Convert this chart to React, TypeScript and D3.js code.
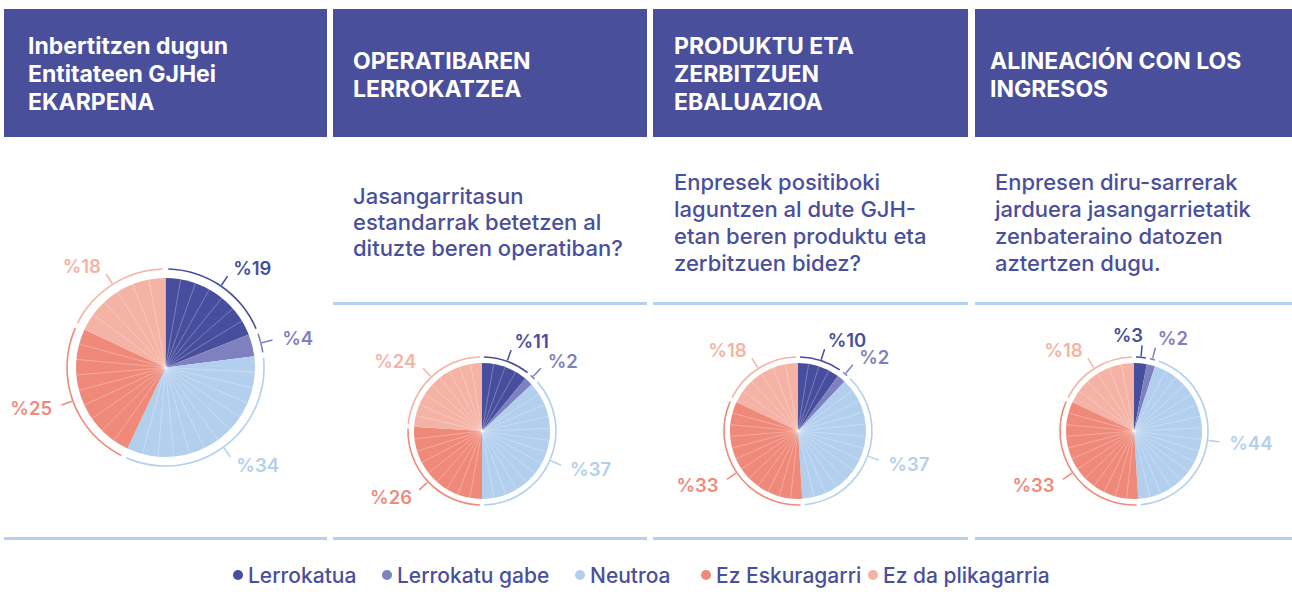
import React from "react";
import * as d3 from "d3";

const categories = ["Lerrokatua", "Lerrokatu gabe", "Neutroa", "Ez Eskuragarri", "Ez da plikagarria"];
const categoryColors = ["#474e9d", "#7f80c0", "#b3cfee", "#ef8a7b", "#f5b3a5"];

const titles = [
  ["Inbertitzen dugun", "Entitateen GJHei", "EKARPENA"],
  ["OPERATIBAREN", "LERROKATZEA"],
  ["PRODUKTU ETA", "ZERBITZUEN", "EBALUAZIOA"],
  ["ALINEACIÓN CON LOS", "INGRESOS"],
];

const questions = [
  [] as string[],
  ["Jasangarritasun", "estandarrak betetzen al", "dituzte beren operatiban?"],
  ["Enpresek positiboki", "laguntzen al dute GJH-", "etan beren produktu eta", "zerbitzuen bidez?"],
  ["Enpresen diru-sarrerak", "jarduera jasangarrietatik", "zenbateraino datozen", "aztertzen dugu."],
];

const valuesEkarpena = [19, 4, 34, 25, 18];
const valuesOperatiba = [11, 2, 37, 26, 24];
const valuesProduktu = [10, 2, 37, 33, 18];
const valuesIngresos = [3, 2, 44, 33, 18];
const panelValues = [valuesEkarpena, valuesOperatiba, valuesProduktu, valuesIngresos];

// layout
const W = 1292;
const H = 603;
const HEADER = "#4a4f9c";
const SEP = "#b8d0ef";
const panels = [
  { x0: 4, x1: 327, cx: 165.5, cy: 367.5, r: 89.5, ring: 98.5, tx: 28, titleY: 53.5, qx: 0, qY: 0, qStep: 26 },
  { x0: 333, x1: 647, cx: 482, cy: 431, r: 68, ring: 74, tx: 353, titleY: 68.5, qx: 353, qY: 204, qStep: 26 },
  { x0: 653, x1: 968, cx: 798, cy: 431, r: 68, ring: 74, tx: 674, titleY: 53.5, qx: 674, qY: 190, qStep: 27 },
  { x0: 975, x1: 1292, cx: 1134, cy: 431, r: 68, ring: 74, tx: 990, titleY: 68.5, qx: 995, qY: 190, qStep: 27 },
];
const legendX = [238, 387, 580, 706, 873];
const FONT = "Inter, 'Noto Sans', sans-serif";

function Pie({ values, p }: { values: number[]; p: typeof panels[number] }) {
  const pie = d3.pie<number>().sort(null).value((d) => d).startAngle(0).endAngle(2 * Math.PI);
  const arcs = pie(values);
  const slice = d3.arc<d3.PieArcDatum<number>>().innerRadius(0).outerRadius(p.r);
  const gap = (1.6 * Math.PI) / 180;
  const ringArc = d3
    .arc<any>()
    .innerRadius(p.ring - 0.8)
    .outerRadius(p.ring + 0.8);
  const pt = (a: number, R: number) => [p.cx + R * Math.sin(a), p.cy - R * Math.cos(a)];
  return (
    <g>
      {arcs.map((a, i) => (
        <path key={"s" + i} d={slice(a) || ""} transform={`translate(${p.cx},${p.cy})`} fill={categoryColors[i]} />
      ))}
      {arcs.map((a, i) => {
        const span = a.endAngle - a.startAngle;
        const n = Math.max(1, Math.round(span / ((10 * Math.PI) / 180)));
        const lines = [];
        for (let k = 1; k < n; k++) {
          const ang = a.startAngle + (span * k) / n;
          const [x, y] = pt(ang, p.r);
          lines.push(
            <line key={k} x1={p.cx} y1={p.cy} x2={x} y2={y} stroke="#ffffff" strokeOpacity={0.4} strokeWidth={0.7} />
          );
        }
        return <g key={"l" + i}>{lines}</g>;
      })}
      {arcs.map((a, i) => (
        <path
          key={"r" + i}
          d={ringArc({ startAngle: a.startAngle + gap, endAngle: a.endAngle - gap }) || ""}
          transform={`translate(${p.cx},${p.cy})`}
          fill={categoryColors[i]}
        />
      ))}
      {arcs.map((a, i) => {
        const mid = (a.startAngle + a.endAngle) / 2;
        const [x1, y1] = pt(mid, p.ring + 1);
        const [x2, y2] = pt(mid, p.ring + 12);
        const [lx, ly] = pt(mid, p.ring + 22);
        const s = Math.sin(mid);
        const anchor = s >= 0.15 ? "start" : "end";
        return (
          <g key={"t" + i}>
            <line x1={x1} y1={y1} x2={x2} y2={y2} stroke={categoryColors[i]} strokeWidth={1.5} />
            <text
              x={lx}
              y={ly}
              textAnchor={anchor}
              dominantBaseline="central"
              fill={categoryColors[i]}
              fontSize={18.5}
              fontWeight={600}
              fontFamily={FONT}
            >
              {"%" + values[i]}
            </text>
          </g>
        );
      })}
    </g>
  );
}

export default function App() {
  return (
    <svg width={W} height={H} style={{ position: "absolute", left: 0, top: 0, background: "#fff" }}>
      {panels.map((p, i) => (
        <g key={i}>
          <rect x={p.x0} y={9} width={p.x1 - p.x0} height={128} fill={HEADER} />
          {titles[i].map((t, j) => (
            <text
              key={j}
              x={p.tx}
              y={p.titleY + j * 28}
              fill="#ffffff"
              fontSize={23}
              fontWeight={700}
              fontFamily={FONT}
            >
              {t}
            </text>
          ))}
          {questions[i].map((t, j) => (
            <text
              key={"q" + j}
              x={p.qx}
              y={p.qY + j * p.qStep}
              fill={HEADER}
              fontSize={22}
              fontWeight={500}
              fontFamily={FONT}
            >
              {t}
            </text>
          ))}
          {i > 0 && <rect x={p.x0} y={302} width={p.x1 - p.x0} height={3} fill={SEP} />}
          <rect x={p.x0} y={537} width={p.x1 - p.x0} height={3} fill={SEP} />
          <Pie values={panelValues[i]} p={p} />
        </g>
      ))}
      {categories.map((c, i) => (
        <g key={"lg" + i}>
          <circle cx={legendX[i]} cy={575} r={5} fill={categoryColors[i]} />
          <text
            x={legendX[i] + 10}
            y={575}
            dominantBaseline="central"
            fill={HEADER}
            fontSize={21}
            fontWeight={500}
            fontFamily={FONT}
          >
            {c}
          </text>
        </g>
      ))}
    </svg>
  );
}
